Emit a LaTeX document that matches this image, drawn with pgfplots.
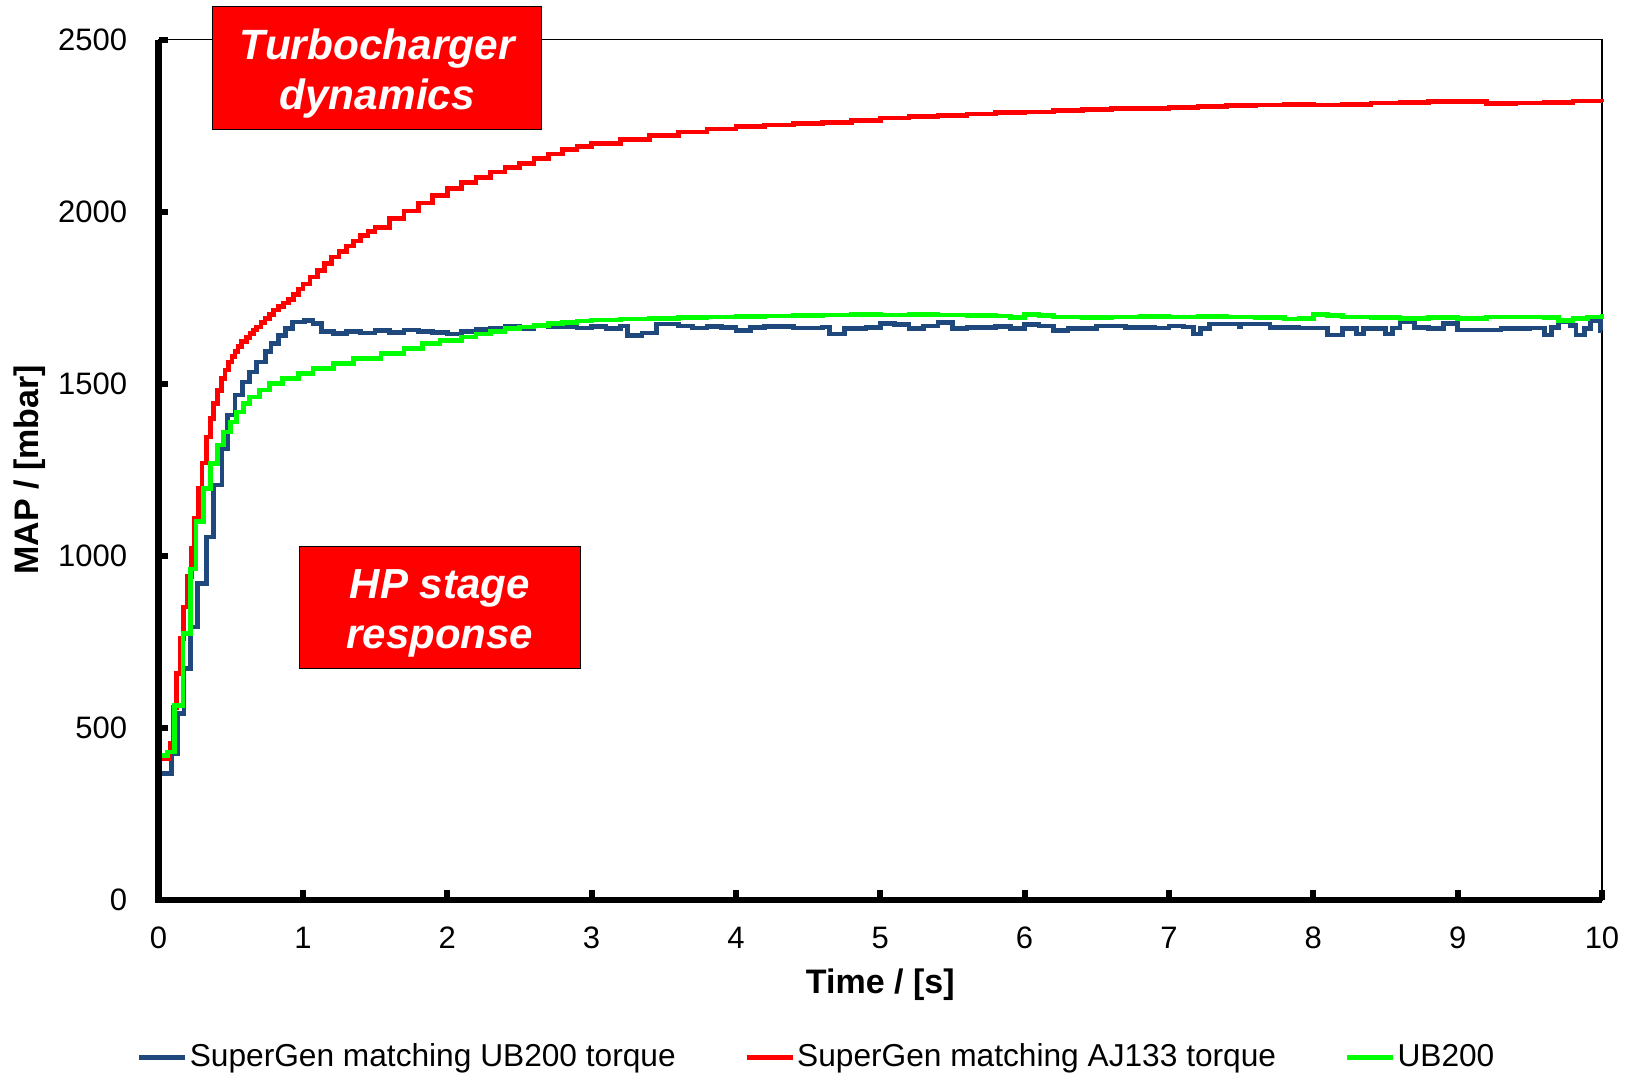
\documentclass[border=0pt]{standalone}
\usepackage{pgfplots}
\pgfplotsset{compat=1.18}
\usepackage{fontspec}
\setmainfont{Liberation Sans}
\definecolor{sgblue}{RGB}{31,73,125}
\definecolor{sgred}{RGB}{255,0,0}
\definecolor{sggreen}{RGB}{0,255,0}
\begin{document}
\begin{tikzpicture}
\begin{axis}[
  scale only axis, width=432.9pt, height=258pt,
  xmin=0, xmax=10, ymin=0, ymax=2500,
  xtick={0,1,...,10}, ytick={0,500,...,2500},
  axis line style={line width=0.4pt, black},
  tick align=inside, xtick pos=bottom, ytick pos=left,
  major tick length=2.9pt,
  tick style={black, line width=1.8pt},
  /pgf/number format/assume math mode=true,
  /pgf/number format/1000 sep={},
  ticklabel style={font=\fontsize{9.3}{11}\selectfont},
  xticklabel style={yshift=-4.5pt},
  yticklabel style={xshift=-5.9pt},
  xlabel={Time / [s]}, ylabel={MAP / [mbar]},
  label style={font=\bfseries\fontsize{10.2}{12}\selectfont},
  xlabel style={at={(axis description cs:0.5,-0.1087)}, anchor=base},
  ylabel style={at={(axis description cs:-0.089,0.5)}, anchor=center},
  clip=false,
  legend columns=3,
  legend style={draw=none, fill=none, at={(axis description cs:0.456,-0.1831)}, anchor=center,
    font=\fontsize{9.5}{11}\selectfont, inner sep=0pt, nodes={inner xsep=0.6pt},
    /tikz/every even column/.append style={column sep=20pt}},
  legend image code/.code={\draw[#1, line width=1.4pt] (0pt,0pt) -- (13.8pt,0pt);},
]
\addplot[const plot, sgblue, line width=1.4pt] coordinates {
(0,367) (0.09,425) (0.13,541) (0.176,672) (0.22,793) (0.27,919) (0.33,1055) (0.38,1206)
(0.44,1312) (0.48,1409) (0.53,1467) (0.58,1505) (0.63,1534) (0.68,1563) (0.74,1593)
(0.78,1617) (0.83,1641) (0.88,1660) (0.93,1680) (1.01,1684) (1.07,1675) (1.13,1651)
(1.21,1646) (1.3,1651) (1.4,1648) (1.5,1655) (1.6,1650) (1.7,1656) (1.8,1652) (1.9,1650)
(2.0,1645) (2.1,1652) (2.2,1658) (2.3,1662) (2.4,1666) (2.5,1660) (2.6,1668) (2.7,1665)
(2.8,1667) (2.9,1662) (3.0,1666) (3.1,1660) (3.2,1668) (3.25,1640) (3.35,1648) (3.45,1674)
(3.6,1668) (3.7,1662) (3.8,1667) (3.9,1664) (4.0,1655) (4.1,1664) (4.2,1666) (4.4,1662)
(4.6,1665) (4.65,1645) (4.75,1660) (4.9,1664) (5.0,1676) (5.1,1672) (5.2,1660) (5.3,1668)
(5.4,1678) (5.5,1660) (5.6,1664) (5.8,1666) (5.9,1660) (6.0,1672) (6.1,1668) (6.2,1655)
(6.3,1660) (6.5,1668) (6.7,1664) (6.9,1662) (7.0,1668) (7.1,1665) (7.17,1645) (7.22,1660)
(7.28,1674) (7.49,1665) (7.5,1674) (7.7,1664) (7.9,1662) (8.1,1642) (8.2,1660) (8.3,1645)
(8.35,1660) (8.5,1645) (8.55,1662) (8.6,1680) (8.7,1664) (8.8,1660) (8.9,1676) (9.0,1656)
(9.1,1656) (9.3,1660) (9.5,1662) (9.6,1642) (9.65,1664) (9.7,1680) (9.78,1670) (9.82,1642)
(9.88,1660) (9.92,1682) (9.99,1655) (10.0,1655)
};
\addlegendentry{SuperGen matching UB200 torque}
\addplot[const plot, sgred, line width=1.4pt] coordinates {
(0,410) (0.08,454) (0.10,560) (0.126,658) (0.15,760) (0.172,851) (0.20,940) (0.23,1021)
(0.25,1110) (0.276,1195) (0.30,1270) (0.334,1345) (0.36,1400) (0.38,1443) (0.41,1480)
(0.438,1515) (0.46,1540) (0.484,1563) (0.51,1580) (0.53,1593) (0.55,1608) (0.576,1622)
(0.61,1635) (0.634,1646) (0.66,1656) (0.68,1665) (0.71,1678) (0.738,1690) (0.77,1702)
(0.795,1714) (0.83,1724) (0.865,1735) (0.90,1745) (0.934,1760) (0.97,1775) (1.0,1790)
(1.05,1810) (1.1,1830) (1.15,1850) (1.2,1868) (1.25,1885) (1.3,1900) (1.35,1915) (1.4,1930)
(1.45,1943) (1.5,1955) (1.6,1980) (1.7,2002) (1.8,2025) (1.9,2048) (2.0,2068) (2.1,2085)
(2.2,2100) (2.3,2115) (2.4,2128) (2.5,2140) (2.6,2155) (2.7,2168) (2.8,2180) (2.9,2190)
(3.0,2198) (3.2,2210) (3.4,2222) (3.6,2232) (3.8,2240) (4.0,2248) (4.2,2252) (4.4,2256)
(4.6,2260) (4.8,2265) (5.0,2272) (5.2,2276) (5.4,2280) (5.6,2284) (5.8,2288) (6.0,2290)
(6.2,2294) (6.4,2298) (6.6,2300) (6.8,2300) (7.0,2303) (7.2,2305) (7.4,2308) (7.6,2310)
(7.8,2312) (8.0,2310) (8.2,2312) (8.4,2316) (8.6,2318) (8.8,2320) (9.0,2320) (9.2,2314)
(9.4,2316) (9.6,2318) (9.8,2322) (10.0,2320)
};
\addlegendentry{SuperGen matching AJ133 torque}
\addplot[const plot, sggreen, line width=1.4pt] coordinates {
(0,420) (0.06,430) (0.11,565) (0.17,774) (0.22,962) (0.26,1099) (0.31,1195) (0.36,1268)
(0.41,1322) (0.45,1360) (0.50,1389) (0.54,1418) (0.59,1443) (0.63,1462) (0.70,1482)
(0.77,1501) (0.86,1515) (0.97,1530) (1.07,1544) (1.21,1559) (1.35,1573) (1.54,1588)
(1.70,1602) (1.83,1617) (1.95,1625) (2.1,1636) (2.2,1645) (2.3,1652) (2.4,1660) (2.5,1665)
(2.6,1670) (2.7,1675) (2.8,1678) (2.9,1682) (3.0,1685) (3.2,1688) (3.4,1690) (3.6,1692)
(3.8,1694) (4.0,1696) (4.2,1697) (4.4,1698) (4.6,1700) (4.8,1701) (5.0,1700) (5.2,1702)
(5.4,1700) (5.6,1698) (5.8,1697) (5.9,1692) (6.0,1702) (6.1,1698) (6.2,1694) (6.4,1692)
(6.6,1694) (6.8,1696) (7.0,1694) (7.2,1696) (7.4,1694) (7.6,1692) (7.8,1688) (7.9,1690)
(8.0,1702) (8.1,1698) (8.2,1694) (8.4,1692) (8.6,1690) (8.8,1692) (9.0,1690) (9.2,1694)
(9.4,1694) (9.6,1692) (9.7,1684) (9.8,1690) (9.9,1694) (10.0,1702)
};
\addlegendentry{UB200}
\draw[line width=2pt, black] (rel axis cs:0,1) -- (rel axis cs:0,0) -- (rel axis cs:1,0);
\node[fill=red, draw=black, line width=0.4pt, minimum width=98.7pt, minimum height=36.9pt,
  inner sep=0pt] at (axis cs:1.515,2418) {};
\node[inner sep=0pt, text=white, font=\bfseries\itshape\fontsize{12.7}{15}\selectfont, align=center]
  at (axis cs:1.515,2402) {Turbocharger\\dynamics};
\node[fill=red, draw=black, line width=0.4pt, minimum width=84.3pt, minimum height=36.6pt,
  inner sep=0pt] at (axis cs:1.948,850) {};
\node[inner sep=0pt, text=white, font=\bfseries\itshape\fontsize{12.6}{15}\selectfont, align=center]
  at (axis cs:1.948,833) {HP stage\\response};
\end{axis}
\pgfresetboundingbox
\useasboundingbox (-47.55pt,-52.35pt) rectangle (442.5pt,269.9pt);
\end{tikzpicture}
\end{document}
